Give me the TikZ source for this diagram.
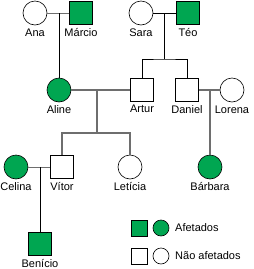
\documentclass[tikz,border=0pt]{standalone}
\usepackage{fontspec}
\setmainfont{Liberation Sans}
\usepackage{xcolor}
\usetikzlibrary{positioning}
\definecolor{PedGreen}{HTML}{00A651}
\definecolor{PedGray}{HTML}{6E6E6E}

\begin{document}
\begin{tikzpicture}[
    x=1pt,y=-1pt,
    font=\fontsize{11}{13}\selectfont,
    male/.style={draw=black,fill=white,minimum size=23pt,inner sep=0pt,line width=0.6pt},
    female/.style={circle,draw=black,fill=white,minimum size=24pt,inner sep=0pt,line width=0.6pt},
    affected/.style={fill=PedGreen},
    who/.style={label={[label distance=0pt]below:#1}},
    keymale/.style={male,minimum size=16pt},
    keyfemale/.style={female,minimum size=16pt},
    tie/.style={draw=PedGray,line width=1.1pt},
    thintie/.style={draw=PedGray,line width=0.7pt},
    link/.style={draw=black,line width=0.6pt}
  ]
    \useasboundingbox (0,0) rectangle (254,269);
    % first generation
    \node[female,who=Ana] (ana) at (35,13) {};
    \node[male,affected,who=Márcio] (marcio) at (81,13) {};
    \node[female,who=Sara] (sara) at (141,13) {};
    \node[male,affected,who=Téo] (teo) at (188,13) {};
    % second generation
    \node[female,affected,who=Aline] (aline) at (59,90) {};
    \node[male,who=Artur] (artur) at (142,90) {};
    \node[male,who=Daniel] (daniel) at (187,90) {};
    \node[female,who=Lorena] (lorena) at (232,90) {};
    % third generation
    \node[female,affected,who=Celina] (celina) at (16,167) {};
    \node[male,who=Vítor] (vitor) at (62,167) {};
    \node[female,who=Letícia] (leticia) at (130,167) {};
    \node[female,affected,who=Bárbara] (barbara) at (210,167) {};
    % fourth generation
    \node[male,affected,who=Benício] (benicio) at (40,244) {};

    % Ana + Marcio
    \coordinate (anamarcio) at (59,13);
    \draw[thintie] (ana) -- (marcio);
    \draw[link] (anamarcio) -- (aline);
    % Sara + Teo
    \coordinate (sarateo) at (164,13);
    \coordinate (sarateokids) at (164,59);
    \draw[link] (sara) -- (teo);
    \draw[link] (sarateo) -- (sarateokids);
    \draw[link] (artur.north) |- (sarateokids) -| (daniel.north);
    % Aline + Artur
    \coordinate (alineartur) at (97,90);
    \coordinate (alineaturkids) at (97,133);
    \draw[tie] (aline) -- (artur);
    \draw[tie] (alineartur) -- (alineaturkids);
    \draw[tie] (vitor.north) |- (alineaturkids) -| (leticia.north);
    % Daniel + Lorena
    \coordinate (daniellorena) at (210,90);
    \draw[tie] (daniel) -- (lorena);
    \draw[tie] (daniellorena) -- (barbara);
    % Celina + Vitor
    \coordinate (celinavitor) at (40,167);
    \draw[thintie] (celina) -- (vitor);
    \draw[link] (celinavitor) -- (benicio);

    % legend
    \node[keymale,affected] (keysq) at (139,228) {};
    \node[keyfemale,affected] (keyci) at (161,228) {};
    \node[anchor=west,inner sep=0pt] (keyaff) at (175,228) {Afetados};
    \node[keymale] (keysqn) at (139,256) {};
    \node[keyfemale] (keycin) at (161,256) {};
    \node[anchor=west,inner sep=0pt] (keynon) at (175,256) {Não afetados};
  \end{tikzpicture}
\end{document}
